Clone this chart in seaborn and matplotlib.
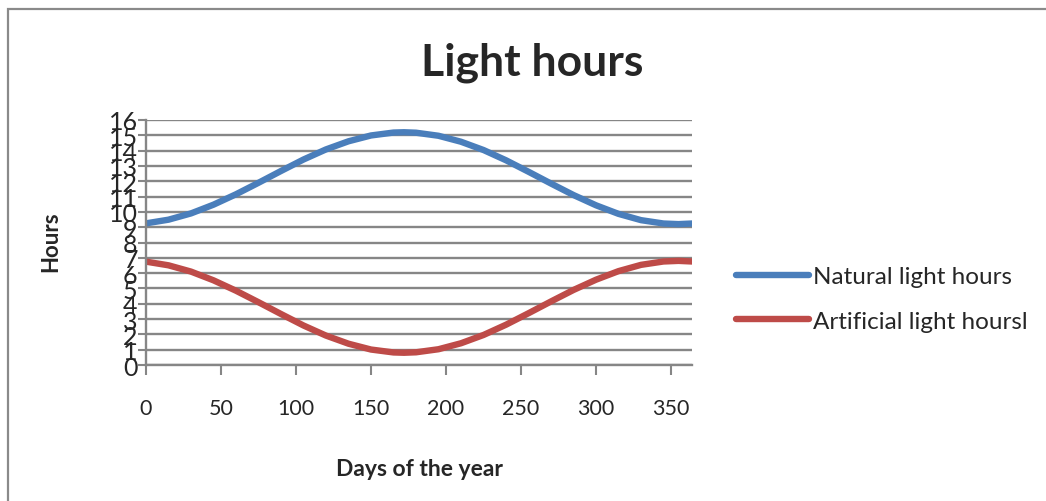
import numpy as np
import pandas as pd
import matplotlib
matplotlib.use("Agg")
import matplotlib.pyplot as plt
import seaborn as sns
from matplotlib.patches import Rectangle
from matplotlib.lines import Line2D

days = [0, 15, 30, 45, 60, 75, 90, 105, 120, 135, 150, 165, 172, 180, 195,
        210, 225, 240, 255, 270, 285, 300, 315, 330, 345, 355, 364]
natural = [9.25, 9.49, 9.90, 10.47, 11.15, 11.90, 12.67, 13.42, 14.08, 14.61,
           14.99, 15.18, 15.2, 15.17, 14.97, 14.58, 14.04, 13.37, 12.62, 11.85,
           11.10, 10.43, 9.87, 9.46, 9.24, 9.2, 9.24]
artificial = [6.75, 6.51, 6.10, 5.53, 4.85, 4.10, 3.33, 2.58, 1.92, 1.39,
              1.01, 0.82, 0.8, 0.83, 1.03, 1.42, 1.96, 2.63, 3.38, 4.15,
              4.90, 5.57, 6.13, 6.54, 6.76, 6.8, 6.76]
series_names = ["Natural light hours", "Artificial light hoursl"]
x_ticks = [0, 50, 100, 150, 200, 250, 300, 350]
y_ticks = list(range(0, 17))

df = pd.DataFrame({
    "day": days + days,
    "hours": natural + artificial,
    "series": [series_names[0]] * len(days) + [series_names[1]] * len(days),
})

sns.set_style("white")
plt.rcParams["font.family"] = ["Lato", "DejaVu Sans"]

fig = plt.figure(figsize=(10.46, 5.02), dpi=100)
ax = fig.add_axes([146 / 1046, 1 - 366 / 502, (692 - 146) / 1046, (366 - 121) / 502])

grid_c = "#868686"
blue, red = "#4A7EBB", "#BE4B48"
for v in y_ticks:
    ax.axhline(v, color=grid_c, lw=1.7, zorder=0)

sns.lineplot(data=df, x="day", y="hours", hue="series",
             palette=[blue, red], linewidth=4.6, ax=ax,
             legend=False, sort=False)

ax.set_xlim(0, 364)
ax.set_ylim(0, 16)
ax.set_xticks(x_ticks)
ax.set_yticks(y_ticks)
ax.set_xticklabels([str(t) for t in x_ticks], fontsize=15.5)
ax.set_yticklabels([str(t) for t in y_ticks], fontsize=18)
ax.tick_params(axis="x", direction="out", length=7, width=1.5, color=grid_c, pad=17)
ax.tick_params(axis="y", direction="out", length=6, width=1.5, color=grid_c, pad=0)
ax.tick_params(axis="both", which="both", bottom=True, left=True)
for s in ["top", "right"]:
    ax.spines[s].set_visible(False)
for s in ["left", "bottom"]:
    ax.spines[s].set_color(grid_c)
    ax.spines[s].set_linewidth(1.7)

ax.set_xlabel("Days of the year", fontsize=16.5, fontweight="bold")
ax.xaxis.set_label_coords((420 - 146) / 546, -(459 - 366) / 245)
ax.set_ylabel("Hours", fontsize=16, fontweight="bold")
ax.yaxis.set_label_coords(-(146 - 61) / 546, (366 - 242) / 245)

fig.text(532 / 1046, 1 - 63 / 502, "Light hours", fontsize=32, fontweight="bold",
         ha="center", va="center")

handles = [Line2D([], [], color=blue, lw=4.6),
           Line2D([], [], color=red, lw=4.6)]
fig.legend(handles, series_names, loc="center left",
           bbox_to_anchor=(736 / 1046, 1 - 300 / 502), frameon=False,
           fontsize=17.5, handlelength=3.0, handletextpad=0.15, labelspacing=0.95,
           borderaxespad=0, borderpad=0)

fig.patches.append(Rectangle((8 / 1046, -0.1), 1.2, 1 - 10 / 502 + 0.1,
                             transform=fig.transFigure, fill=False,
                             edgecolor="#8a8a8a", lw=1.6))

fig.savefig("out.png", dpi=100)
